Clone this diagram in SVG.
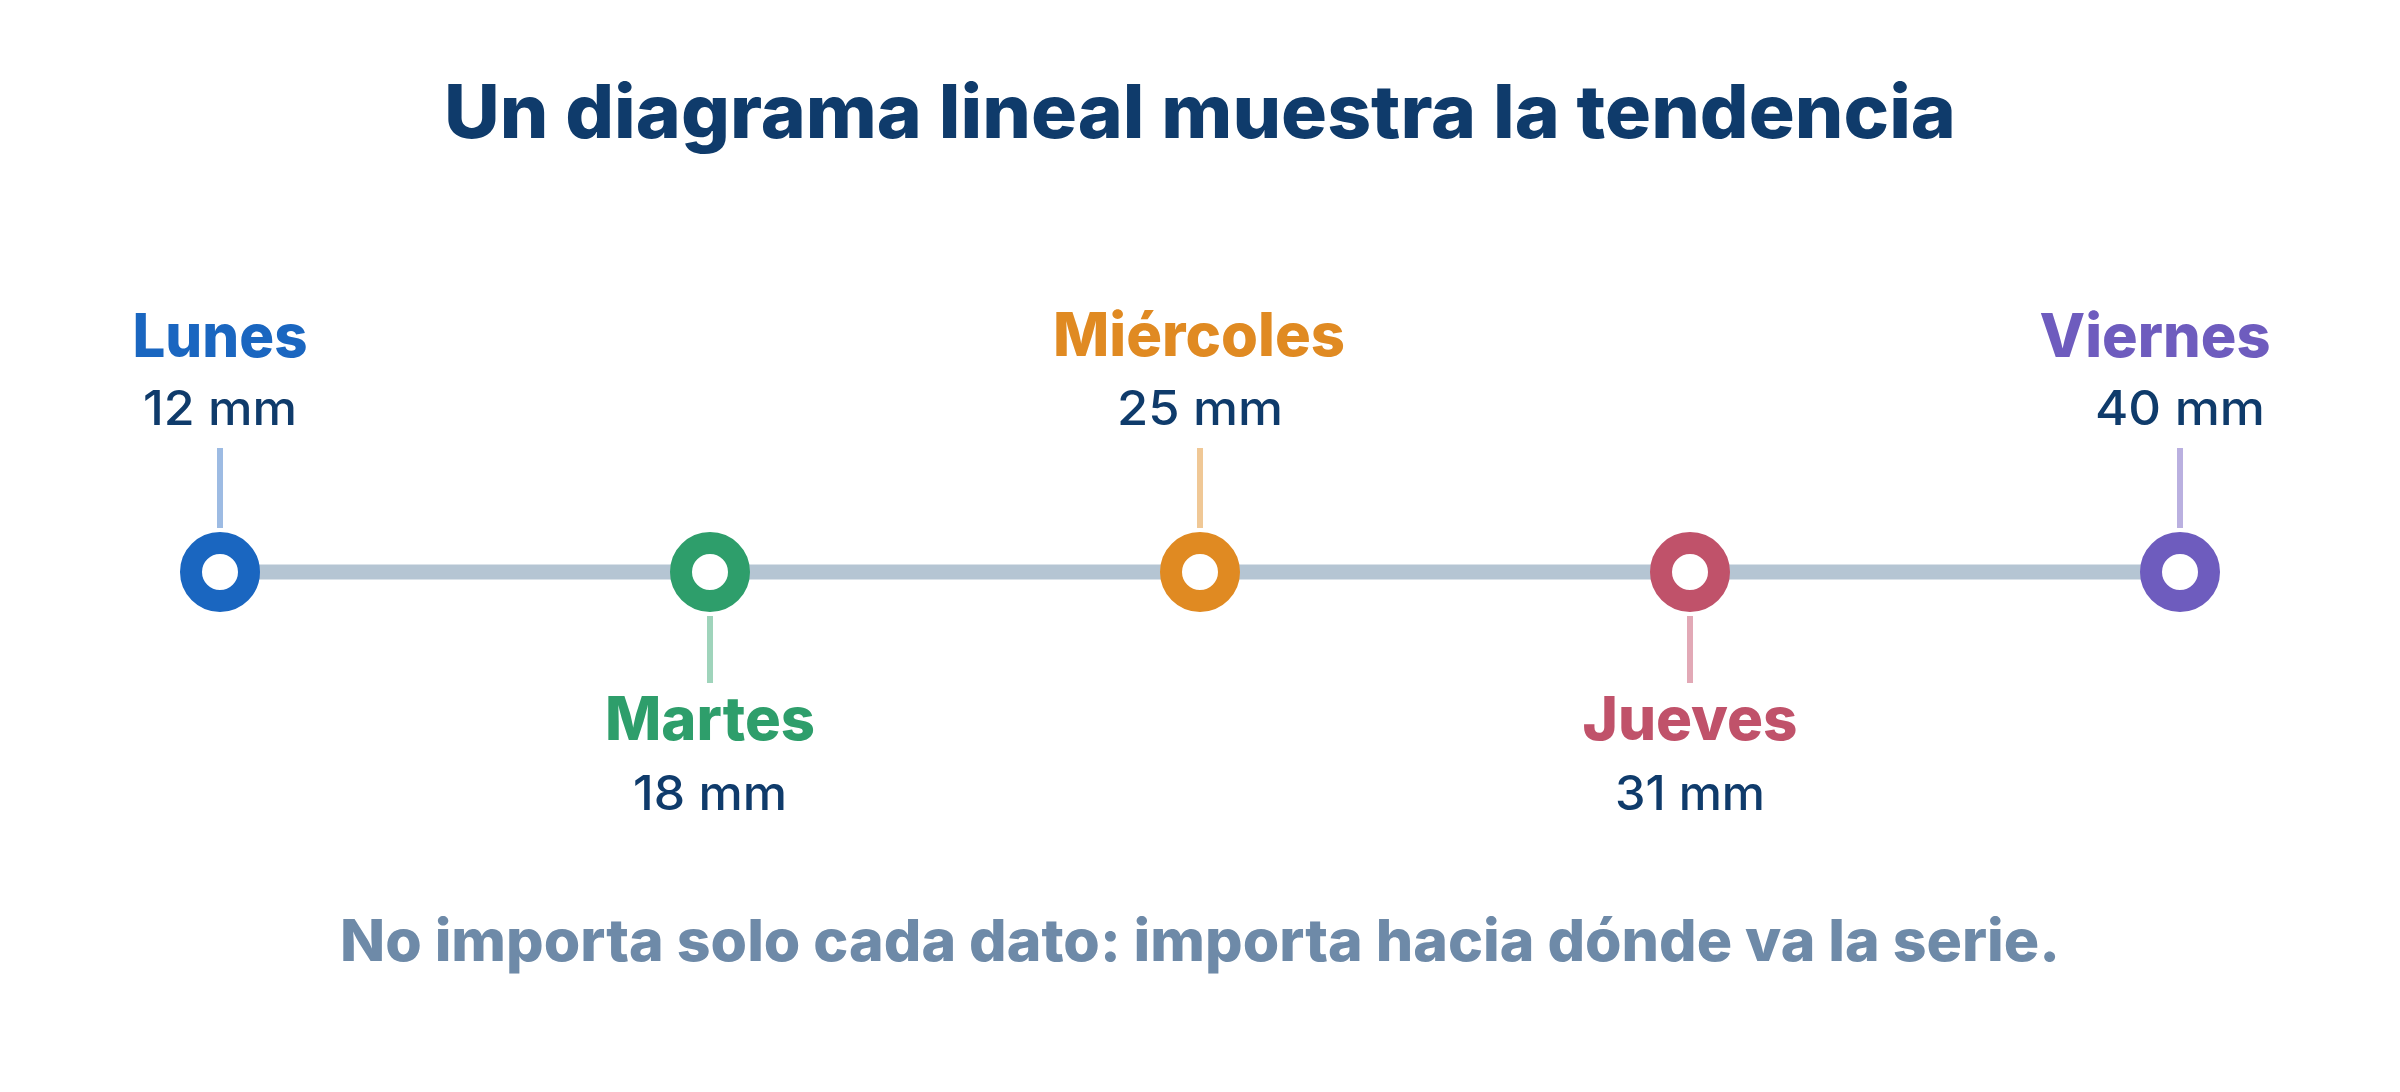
<svg xmlns="http://www.w3.org/2000/svg" width="2400" height="1092" viewBox="0 0 2400 1092">
<style>
text{font-family:Inter,"Open Sans","Liberation Sans",sans-serif;text-anchor:middle}
.title{font-size:74px;font-weight:800;fill:#0f3b6b}
.foot{font-size:58px;font-weight:800;fill:#6e8aa8}
.day{font-size:60px;font-weight:800}
.val{font-size:48px;font-weight:500;fill:#0f3b6b}
.ring{fill:none;stroke-width:22}
.lead{stroke-width:6}
</style>
<rect width="2400" height="1092" fill="#ffffff"/>
<text class="title" x="1200" y="138" textLength="1512" lengthAdjust="spacingAndGlyphs">Un diagrama lineal muestra la tendencia</text>
<g id="connectors">
<line x1="220" y1="572" x2="2180" y2="572" stroke="#b5c5d3" stroke-width="15"/>
<line class="lead" x1="220" y1="448" x2="220" y2="528" stroke="#9dbbe3"/>
<line class="lead" x1="710" y1="616" x2="710" y2="683" stroke="#9fd4bb"/>
<line class="lead" x1="1200" y1="448" x2="1200" y2="528" stroke="#f0c896"/>
<line class="lead" x1="1690" y1="616" x2="1690" y2="683" stroke="#e2a9b6"/>
<line class="lead" x1="2180" y1="448" x2="2180" y2="528" stroke="#bab0e0"/>
</g>
<g id="lunes">
<circle cx="220" cy="572" r="29" fill="#ffffff"/>
<circle class="ring" cx="220" cy="572" r="29" stroke="#1a66c0"/>
<text class="day" x="220" y="357" fill="#1a66c0" textLength="175" lengthAdjust="spacingAndGlyphs">Lunes</text>
<text class="val" x="220" y="425" textLength="154" lengthAdjust="spacingAndGlyphs">12 mm</text>
</g>
<g id="martes">
<circle cx="710" cy="572" r="29" fill="#ffffff"/>
<circle class="ring" cx="710" cy="572" r="29" stroke="#2e9e6b"/>
<text class="day" x="710" y="740" fill="#2e9e6b" textLength="210" lengthAdjust="spacingAndGlyphs">Martes</text>
<text class="val" x="710" y="810" textLength="154" lengthAdjust="spacingAndGlyphs">18 mm</text>
</g>
<g id="miercoles">
<circle cx="1200" cy="572" r="29" fill="#ffffff"/>
<circle class="ring" cx="1200" cy="572" r="29" stroke="#e08a22"/>
<text class="day" x="1199" y="356" fill="#e08a22" textLength="292" lengthAdjust="spacingAndGlyphs">Miércoles</text>
<text class="val" x="1200" y="425" textLength="166" lengthAdjust="spacingAndGlyphs">25 mm</text>
</g>
<g id="jueves">
<circle cx="1690" cy="572" r="29" fill="#ffffff"/>
<circle class="ring" cx="1690" cy="572" r="29" stroke="#c0526a"/>
<text class="day" x="1690" y="740" fill="#c0526a" textLength="215" lengthAdjust="spacingAndGlyphs">Jueves</text>
<text class="val" x="1690" y="810" textLength="150" lengthAdjust="spacingAndGlyphs">31 mm</text>
</g>
<g id="viernes">
<circle cx="2180" cy="572" r="29" fill="#ffffff"/>
<circle class="ring" cx="2180" cy="572" r="29" stroke="#6e5cbe"/>
<text class="day" x="2155" y="357" fill="#6e5cbe" textLength="231" lengthAdjust="spacingAndGlyphs">Viernes</text>
<text class="val" x="2180" y="425" textLength="170" lengthAdjust="spacingAndGlyphs">40 mm</text>
</g>
<text class="foot" x="1200" y="961" textLength="1720" lengthAdjust="spacingAndGlyphs">No importa solo cada dato: importa hacia dónde va la serie.</text>
</svg>
